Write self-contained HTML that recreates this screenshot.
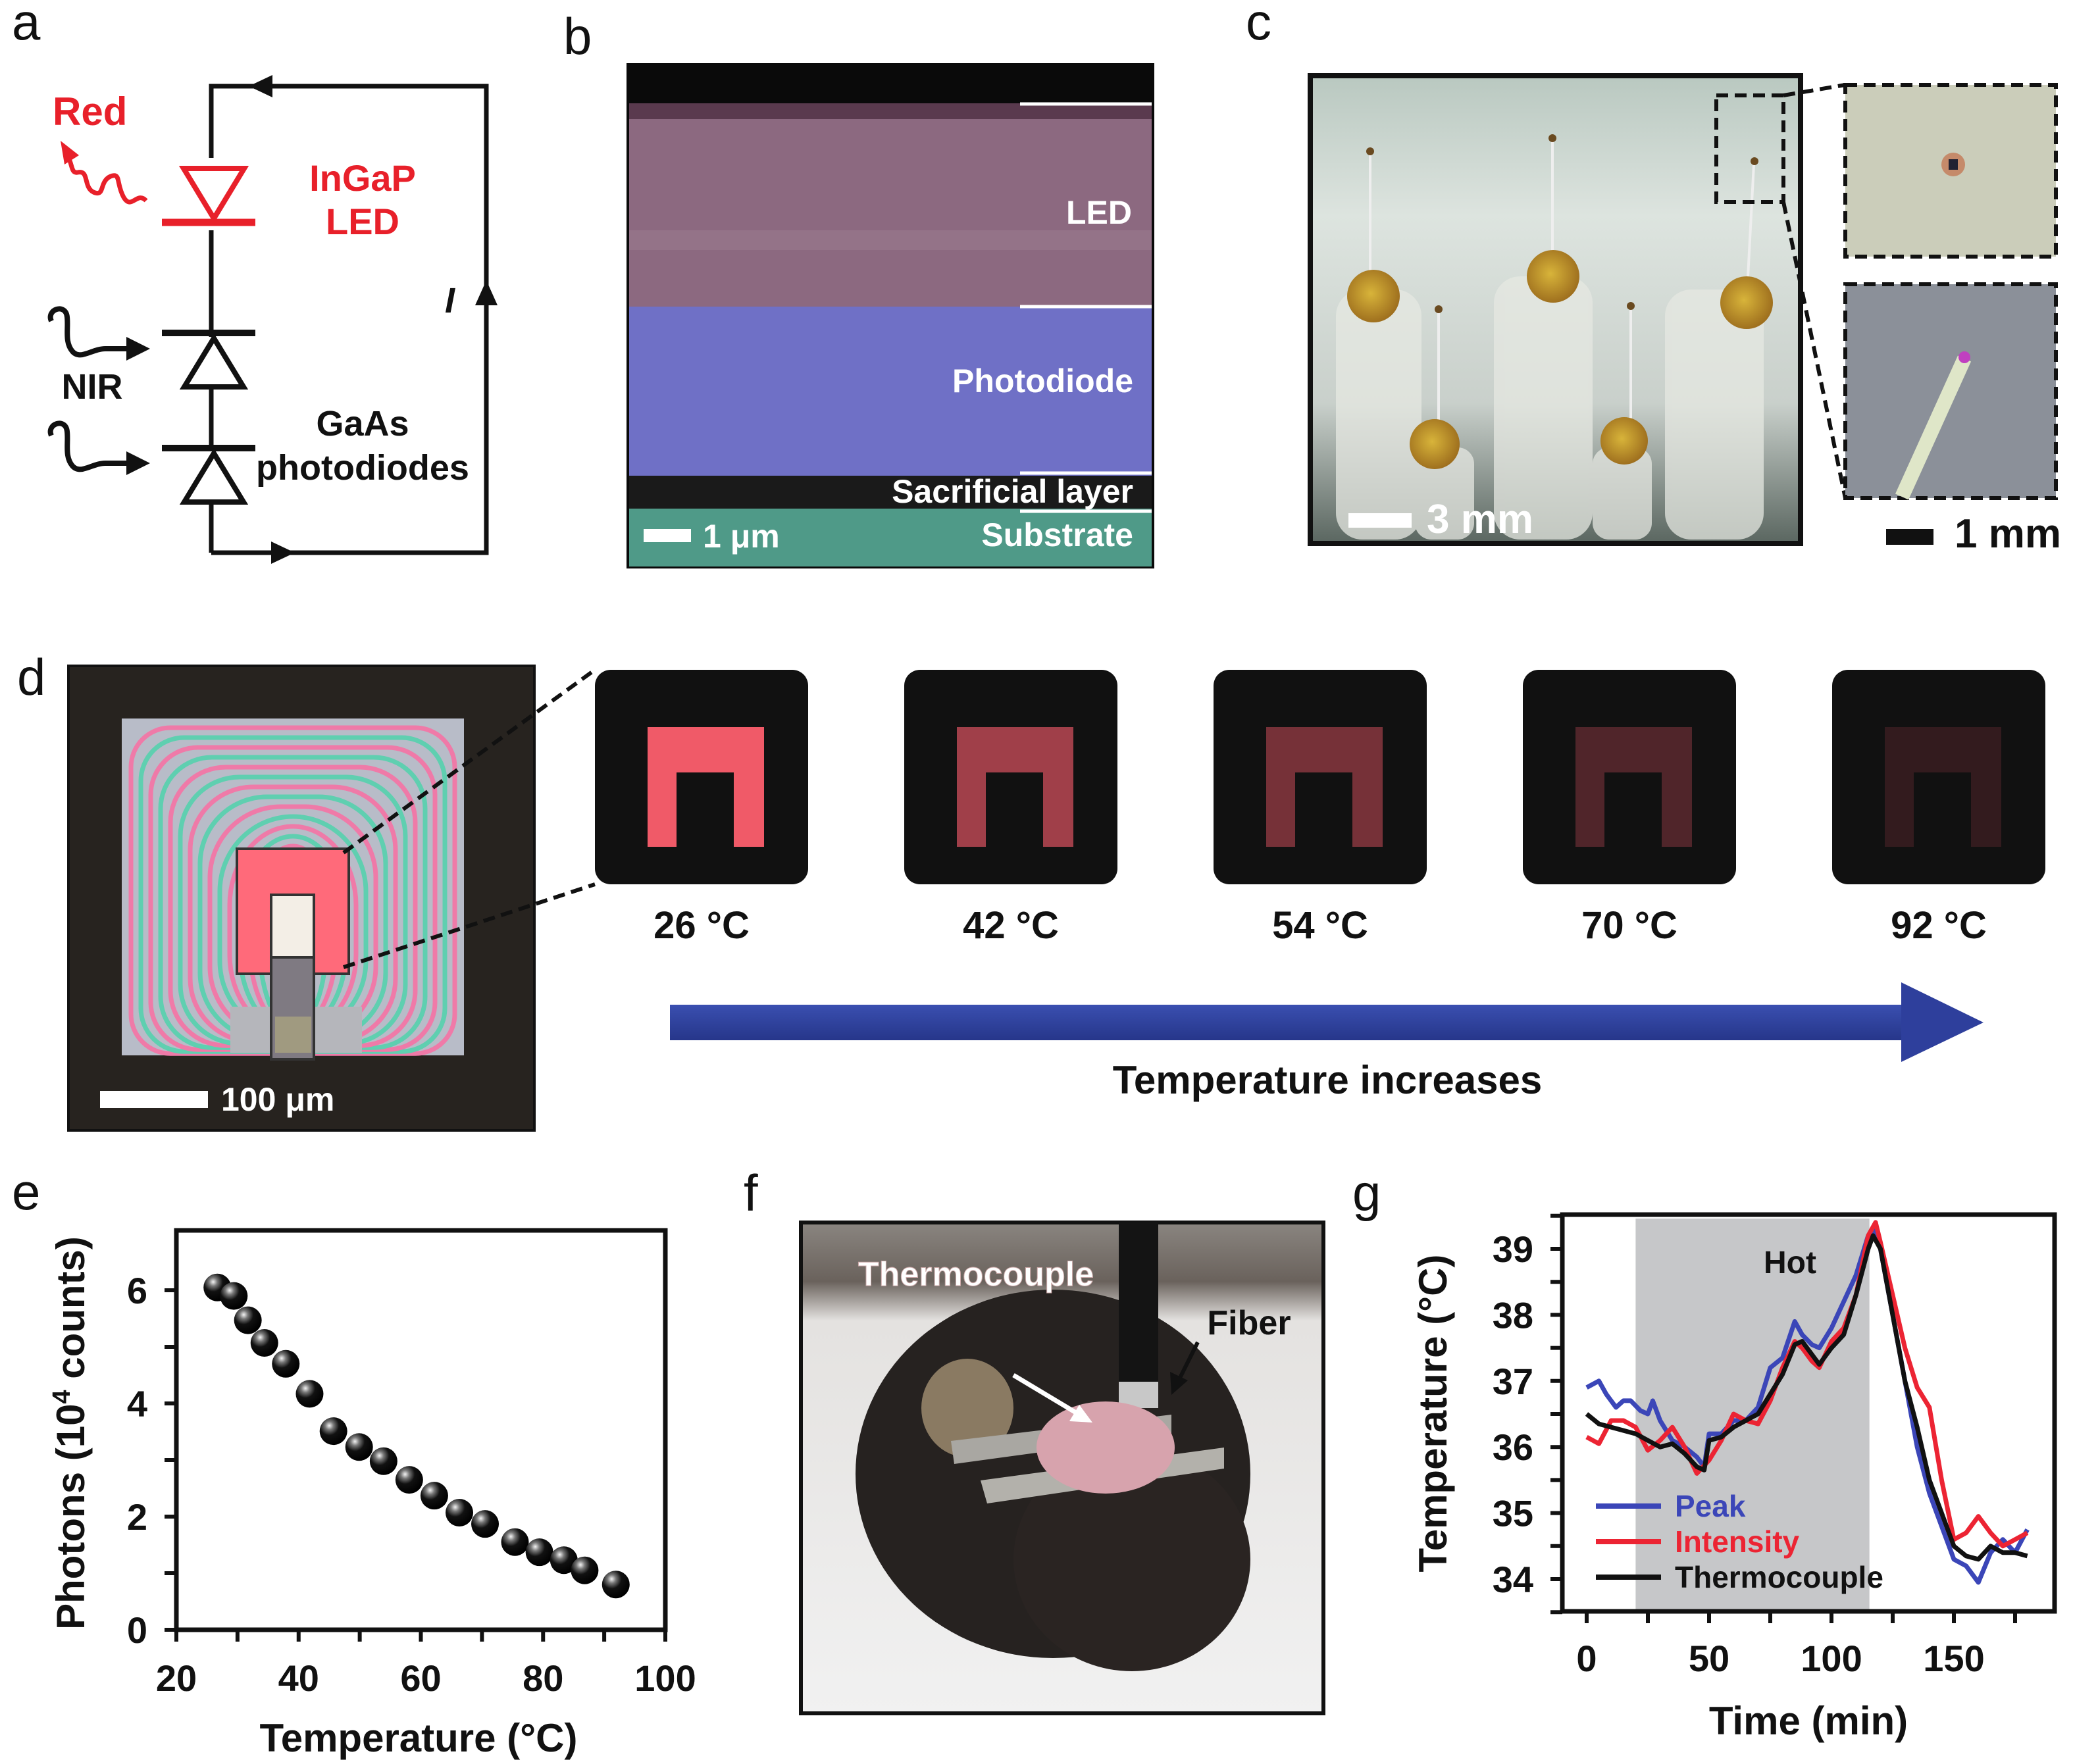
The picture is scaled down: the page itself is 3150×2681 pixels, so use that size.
<!DOCTYPE html>
<html><head><meta charset="utf-8"><title>Figure</title>
<style>
html,body{margin:0;padding:0;background:#fff;}
svg{display:block;}
text{font-family:"Liberation Sans",sans-serif;}
.b{font-weight:bold;}
.lab{font-size:78px;fill:#111;font-weight:normal;}
</style></head>
<body>
<svg id="fig" width="3150" height="2681" viewBox="0 0 3150 2681" xmlns="http://www.w3.org/2000/svg">
<defs>
<linearGradient id="arrowGrad" x1="0" y1="0" x2="0" y2="1"><stop offset="0" stop-color="#3a4fb0"/><stop offset="1" stop-color="#26368a"/></linearGradient>
<linearGradient id="photoC" x1="0" y1="0" x2="0" y2="1"><stop offset="0" stop-color="#b9c8c0"/><stop offset="0.3" stop-color="#dde4df"/><stop offset="0.7" stop-color="#c9d0cb"/><stop offset="1" stop-color="#5a6660"/></linearGradient>
<linearGradient id="photoF" x1="0" y1="0" x2="0" y2="1"><stop offset="0" stop-color="#8a8580"/><stop offset="0.12" stop-color="#6a625c"/><stop offset="0.2" stop-color="#e4e2e0"/><stop offset="1" stop-color="#f1f1f1"/></linearGradient>
<radialGradient id="ball" cx="0.35" cy="0.3" r="0.7"><stop offset="0" stop-color="#f4f4f4"/><stop offset="0.22" stop-color="#777"/><stop offset="0.5" stop-color="#111"/><stop offset="1" stop-color="#000"/></radialGradient>
<radialGradient id="bead" cx="0.45" cy="0.45" r="0.6"><stop offset="0" stop-color="#d8b43a"/><stop offset="1" stop-color="#9a6a1c"/></radialGradient>
</defs>

<!-- ===== Panel a ===== -->
<g>
<text class="lab" x="18" y="60">a</text>
<polyline points="321,840 321,131 739,131 739,840 321,840" fill="none" stroke="#111" stroke-width="7"/>
<polygon points="378,131 414,114 414,148" fill="#111"/>
<polygon points="448,840 412,823 412,857" fill="#111"/>
<polygon points="739,426 722,464 756,464" fill="#111"/>
<text x="676" y="475" class="b" font-style="italic" font-size="54" fill="#111">I</text>
<g>
<rect x="300" y="240" width="50" height="110" fill="#fff"/>
<polygon points="279,256 371,256 325,332" fill="none" stroke="#e8202a" stroke-width="8"/>
<line x1="246" y1="338" x2="388" y2="338" stroke="#e8202a" stroke-width="11"/>
</g>
<text x="80" y="190" class="b" font-size="60" fill="#e8202a">Red</text>
<path d="M222,305 C208,290 200,320 188,300 C176,278 184,262 168,268 C150,276 160,300 142,292 C126,284 136,258 118,262 C108,264 110,250 104,240" fill="none" stroke="#e8202a" stroke-width="7"/>
<polygon points="92,214 120,236 98,250" fill="#e8202a"/>
<text x="551" y="290" text-anchor="middle" class="b" font-size="56" fill="#e8202a">InGaP</text>
<text x="551" y="356" text-anchor="middle" class="b" font-size="56" fill="#e8202a">LED</text>
<g>
<rect x="290" y="512" width="70" height="80" fill="#fff"/>
<line x1="246" y1="506" x2="388" y2="506" stroke="#111" stroke-width="10"/>
<polygon points="325,514 280,588 370,588" fill="#fff" stroke="#111" stroke-width="8"/>
</g>
<g>
<rect x="290" y="686" width="70" height="80" fill="#fff"/>
<line x1="246" y1="681" x2="388" y2="681" stroke="#111" stroke-width="10"/>
<polygon points="325,689 280,763 370,763" fill="#fff" stroke="#111" stroke-width="8"/>
</g>
<path d="M78,488 C70,470 100,460 102,482 C104,500 98,520 110,534 C122,548 140,530 160,530 L196,530" fill="none" stroke="#111" stroke-width="8"/>
<polygon points="228,530 192,512 192,548" fill="#111"/>
<path d="M78,662 C70,644 100,634 102,656 C104,674 98,694 110,708 C122,722 140,704 160,704 L196,704" fill="none" stroke="#111" stroke-width="8"/>
<polygon points="228,704 192,686 192,722" fill="#111"/>
<text x="140" y="606" text-anchor="middle" class="b" font-size="54" fill="#111">NIR</text>
<text x="551" y="662" text-anchor="middle" class="b" font-size="54" fill="#111">GaAs</text>
<text x="551" y="729" text-anchor="middle" class="b" font-size="54" fill="#111">photodiodes</text>
</g>

<!-- ===== Panel b ===== -->
<g>
<text class="lab" x="856" y="82">b</text>
<rect x="952" y="96" width="802" height="768" fill="#0a0a0a"/>
<rect x="956" y="157" width="794" height="24" fill="#5a3a4e"/>
<rect x="956" y="181" width="794" height="285" fill="#8c6980"/>
<rect x="956" y="350" width="794" height="30" fill="#9a7a8e" opacity="0.6"/>
<rect x="956" y="466" width="794" height="257" fill="#6f70c6"/>
<rect x="956" y="723" width="794" height="50" fill="#1a1a1a"/>
<rect x="956" y="773" width="794" height="88" fill="#4f9a88"/>
<g stroke="#fff" stroke-width="5"><line x1="1550" y1="158" x2="1750" y2="158"/><line x1="1550" y1="466" x2="1750" y2="466"/><line x1="1550" y1="719" x2="1750" y2="719"/><line x1="1550" y1="777" x2="1750" y2="777"/></g>
<text x="1720" y="340" text-anchor="end" class="b" font-size="50" fill="#fff">LED</text>
<text x="1722" y="596" text-anchor="end" class="b" font-size="50" fill="#fff">Photodiode</text>
<text x="1722" y="764" text-anchor="end" class="b" font-size="50" fill="#fff">Sacrificial layer</text>
<text x="1722" y="830" text-anchor="end" class="b" font-size="50" fill="#fff">Substrate</text>
<rect x="978" y="804" width="72" height="20" fill="#fff"/>
<text x="1068" y="832" class="b" font-size="50" fill="#fff">1 μm</text>
</g>

<!-- ===== Panel c ===== -->
<g>
<text class="lab" x="1893" y="60">c</text>
<rect x="1991" y="115" width="745" height="711" fill="url(#photoC)" stroke="#111" stroke-width="8"/>
<g fill="#e6e8e2" opacity="0.75">
<rect x="2030" y="440" width="130" height="380" rx="40"/><rect x="2270" y="420" width="150" height="400" rx="40"/><rect x="2530" y="440" width="150" height="380" rx="40"/>
<rect x="2150" y="680" width="90" height="140" rx="25"/><rect x="2420" y="680" width="90" height="140" rx="25"/>
</g>
<g stroke="#eee" stroke-width="4"><line x1="2082" y1="235" x2="2082" y2="420"/><line x1="2359" y1="212" x2="2359" y2="400"/><line x1="2665" y1="250" x2="2655" y2="440"/><line x1="2186" y1="475" x2="2186" y2="660"/><line x1="2478" y1="470" x2="2478" y2="660"/></g>
<g fill="url(#bead)"><circle cx="2087" cy="450" r="40"/><circle cx="2360" cy="420" r="40"/><circle cx="2654" cy="460" r="40"/><circle cx="2180" cy="675" r="38"/><circle cx="2468" cy="670" r="36"/></g>
<g fill="#6a4a20"><circle cx="2082" cy="230" r="6"/><circle cx="2359" cy="210" r="6"/><circle cx="2666" cy="245" r="6"/><circle cx="2186" cy="470" r="6"/><circle cx="2478" cy="465" r="6"/></g>
<rect x="2608" y="145" width="102" height="162" fill="none" stroke="#111" stroke-width="6" stroke-dasharray="18,10"/>
<line x1="2710" y1="145" x2="2804" y2="129" stroke="#111" stroke-width="6" stroke-dasharray="18,10"/>
<line x1="2710" y1="307" x2="2804" y2="757" stroke="#111" stroke-width="6" stroke-dasharray="18,10"/>
<rect x="2804" y="129" width="320" height="261" fill="#cbcdba" stroke="#111" stroke-width="6" stroke-dasharray="18,10"/>
<circle cx="2968" cy="250" r="18" fill="#c58a6a"/><rect x="2961" y="242" width="14" height="16" fill="#223"/>
<rect x="2804" y="432" width="320" height="325" fill="#8b9099" stroke="#111" stroke-width="6" stroke-dasharray="18,10"/>
<line x1="2890" y1="755" x2="2985" y2="545" stroke="#dfe6c8" stroke-width="22"/>
<circle cx="2985" cy="543" r="9" fill="#c040c0"/>
<rect x="2049" y="780" width="96" height="22" fill="#fff"/>
<text x="2168" y="810" class="b" font-size="62" fill="#fff">3 mm</text>
<rect x="2866" y="804" width="72" height="24" fill="#111"/>
<text x="2970" y="832" class="b" font-size="62" fill="#111">1 mm</text>
</g>

<!-- ===== Panel d ===== -->
<g>
<text class="lab" x="26" y="1056">d</text>
<rect x="104" y="1012" width="708" height="706" fill="#27231f" stroke="#111" stroke-width="4"/>
<rect x="185" y="1092" width="520" height="512" fill="#b8bcc8"/>
<g id="rings" fill="none" stroke-width="7"></g>
<rect x="350" y="1530" width="200" height="70" fill="#b5b6bb"/>
<rect x="360" y="1290" width="170" height="190" fill="#ff6a7a" stroke="#333" stroke-width="4"/>
<rect x="412" y="1360" width="65" height="95" fill="#f3eee6" stroke="#333" stroke-width="4"/>
<rect x="412" y="1455" width="65" height="155" fill="#7f7a82" stroke="#333" stroke-width="4"/>
<rect x="418" y="1545" width="55" height="55" fill="#a09a80"/>
<line x1="522" y1="1296" x2="904" y2="1018" stroke="#111" stroke-width="6" stroke-dasharray="18,10"/>
<line x1="522" y1="1470" x2="904" y2="1344" stroke="#111" stroke-width="6" stroke-dasharray="18,10"/>
<rect x="152" y="1658" width="164" height="26" fill="#fff"/>
<text x="336" y="1688" class="b" font-size="50" fill="#fff">100 μm</text>
<g id="ledFrames"></g>
<rect x="1018" y="1527" width="1876" height="54" fill="url(#arrowGrad)"/>
<polygon points="2889,1493 3014,1554 2889,1614" fill="#2e3f9c"/>
<text x="2017" y="1662" text-anchor="middle" class="b" font-size="60" fill="#111">Temperature increases</text>
</g>

<!-- ===== Panel e ===== -->
<g id="panelE">
<text class="lab" x="18" y="1838">e</text>
</g>

<!-- ===== Panel f ===== -->
<g>
<text class="lab" x="1130" y="1840">f</text>
<rect x="1217" y="1858" width="794" height="746" fill="url(#photoF)" stroke="#111" stroke-width="6"/>
<ellipse cx="1600" cy="2240" rx="300" ry="280" fill="#262220"/>
<ellipse cx="1720" cy="2370" rx="180" ry="170" fill="#2a2422"/>
<ellipse cx="1470" cy="2140" rx="70" ry="75" fill="#8a7a62"/>
<rect x="1700" y="1858" width="60" height="250" fill="#141414"/>
<rect x="1700" y="2100" width="60" height="40" fill="#c8c8c8"/>
<polygon points="1445,2190 1780,2150 1780,2180 1450,2225" fill="#a9a7a2"/>
<polygon points="1490,2250 1860,2200 1860,2232 1500,2285" fill="#b3b1ab"/>
<ellipse cx="1680" cy="2200" rx="105" ry="70" fill="#d7a3ad"/>
<line x1="1540" y1="2090" x2="1640" y2="2150" stroke="#fff" stroke-width="7"/>
<polygon points="1660,2162 1625,2160 1640,2135" fill="#fff"/>
<line x1="1820" y1="2040" x2="1790" y2="2100" stroke="#111" stroke-width="6"/>
<polygon points="1780,2120 1778,2085 1805,2098" fill="#111"/>
<text x="1483" y="1954" text-anchor="middle" class="b" font-size="52" fill="#fff" stroke="#caa" stroke-width="1">Thermocouple</text>
<text x="1898" y="2028" text-anchor="middle" class="b" font-size="52" fill="#111">Fiber</text>
</g>

<!-- ===== Panel g ===== -->
<g id="panelG">
<text class="lab" x="2055" y="1840">g</text>
</g>
</svg>

<script>
// ---------- Panel e data ----------
const eTemps = [26.7, 29.4, 31.7, 34.4, 37.9, 41.8, 45.7, 49.9, 53.9, 58.1, 62.2, 66.3, 70.5, 75.4, 79.4, 83.4, 86.8, 91.9];
const ePhotons = [6.05, 5.9, 5.47, 5.07, 4.7, 4.17, 3.51, 3.23, 2.98, 2.65, 2.37, 2.07, 1.87, 1.55, 1.37, 1.23, 1.05, 0.8];
const eXTicks = [20, 40, 60, 80, 100];
const eYTicks = [0, 2, 4, 6];

// ---------- Panel g data ----------
const gTimeThermo = [0,5,10,15,20,25,30,35,40,45,48,50,55,60,65,70,75,80,85,88,92,95,100,105,110,115,117,120,125,130,135,140,145,150,155,160,165,170,175,180];
const gThermo = [36.5,36.35,36.3,36.25,36.2,36.1,36.0,36.05,35.9,35.7,35.65,36.1,36.15,36.3,36.4,36.5,36.8,37.1,37.55,37.6,37.4,37.25,37.5,37.7,38.3,39.0,39.2,39.0,38.0,37.0,36.3,35.5,35.0,34.5,34.35,34.3,34.5,34.4,34.4,34.35];
const gTimePeak = [0,5,8,12,15,18,22,25,27,30,35,40,45,48,50,55,60,65,70,75,80,85,88,92,95,100,105,110,115,117,120,125,130,135,140,145,150,155,160,165,170,175,180];
const gPeak = [36.9,37.0,36.8,36.6,36.7,36.7,36.55,36.5,36.7,36.4,36.1,36.0,35.85,35.7,36.2,36.2,36.4,36.4,36.6,37.2,37.35,37.9,37.7,37.55,37.5,37.8,38.2,38.6,39.2,39.3,39.0,38.0,37.0,36.0,35.3,34.8,34.3,34.2,33.95,34.4,34.6,34.4,34.75];
const gTimeInt = [0,5,10,15,20,25,30,35,40,45,50,55,60,65,70,75,80,85,88,92,95,100,105,110,115,118,120,125,130,135,140,145,150,155,160,165,170,175,180];
const gIntensity = [36.15,36.05,36.4,36.4,36.3,35.95,36.1,36.3,36.0,35.6,35.8,36.1,36.5,36.4,36.35,36.7,37.2,37.6,37.5,37.3,37.2,37.6,37.8,38.3,39.2,39.4,39.1,38.3,37.5,36.9,36.6,35.5,34.6,34.7,34.95,34.7,34.5,34.6,34.7];
const gXTicks = [0, 50, 100, 150];
const gYTicks = [34, 35, 36, 37, 38, 39];
const gHotRange = [20, 115.5];
const gLegendNames = ["Peak", "Intensity", "Thermocouple"];

// ---------- Panel d frames ----------
const dTempLabels = ["26 °C", "42 °C", "54 °C", "70 °C", "92 °C"];
const dBrightness = [1.0, 0.62, 0.42, 0.24, 0.1];

const NS = "http://www.w3.org/2000/svg";
function mk(parent, tag, attrs, txt) {
  const el = document.createElementNS(NS, tag);
  for (const k in attrs) el.setAttribute(k, attrs[k]);
  if (txt !== undefined) el.textContent = txt;
  parent.appendChild(el);
  return el;
}

// rings in panel d micrograph
(function () {
  const g = document.getElementById('rings');
  const cols = ['#ef7aa8', '#5fcfb0'];
  for (let i = 0; i < 14; i++) {
    const inset = 14 + i * 15;
    const r = mk(g, 'rect', {x: 185 + inset, y: 1092 + inset, width: Math.max(10, 520 - 2 * inset), height: Math.max(10, 512 - inset * 1.2), rx: 60 + i * 6, stroke: cols[i % 2]});
    
    
  }
})();

// LED frames
(function () {
  const g = document.getElementById('ledFrames');
  const xs0 = 904, step = 470;
  dTempLabels.forEach((lab, i) => {
    const x = xs0 + i * step;
    const fr = mk(g, 'rect', {x: x, y: 1018, width: 324, height: 326, rx: 24, fill: '#111'});
    
    
    const b = dBrightness[i];
    const col = `rgb(${Math.round(30 + 210 * b)},${Math.round(20 + 70 * b)},${Math.round(22 + 82 * b)})`;
    mk(g, 'path', {d: `M${x + 80},${x ? 1287 : 0} L${x + 80},1105 L${x + 257},1105 L${x + 257},1287 L${x + 211},1287 L${x + 211},1174 L${x + 124},1174 L${x + 124},1287 Z`, fill: col});
    const t = mk(g, 'text', {x: x + 162, y: 1426, 'text-anchor': 'middle', 'class': 'b', 'font-size': 58, fill: '#111'}, lab);
    
    
  });
})();

// Panel e chart
(function () {
  const g = document.getElementById('panelE');
  const L = 268, R = 1011, T = 1870, B = 2477;
  const xS = v => L + (v - 20) / 80 * (R - L);
  const yS = v => B - v * 86;
  const ax = mk(g, 'path', {d: `M${L},${T} L${R},${T} L${R},${B} L${L},${B} Z`, fill: 'none', stroke: '#111', 'stroke-width': 7});
  
  
  for (let v = 20; v <= 100; v += 10) {
    mk(g, 'line', {x1: xS(v), y1: B, x2: xS(v), y2: B + 18, stroke: '#111', 'stroke-width': 6});
  }
  for (let v = 0; v <= 6; v += 1) {
    mk(g, 'line', {x1: L - 18, y1: yS(v), x2: L, y2: yS(v), stroke: '#111', 'stroke-width': 6});
  }
  eXTicks.forEach(v => {
    const t = mk(g, 'text', {x: xS(v), y: 2570, 'text-anchor': 'middle', 'class': 'b', 'font-size': 56, fill: '#111'}, String(v));
    
    
  });
  eYTicks.forEach(v => {
    const t = mk(g, 'text', {x: 224, y: yS(v) + 20, 'text-anchor': 'end', 'class': 'b', 'font-size': 56, fill: '#111'}, String(v));
    
    
  });
  const xt = mk(g, 'text', {x: 636, y: 2662, 'text-anchor': 'middle', 'class': 'b', 'font-size': 60, fill: '#111'}, 'Temperature (°C)');
  
  
  const yt = mk(g, 'text', {x: 0, y: 0, transform: 'translate(128,2178) rotate(-90)', 'text-anchor': 'middle', 'class': 'b', 'font-size': 60, fill: '#111'});
  
  
  mk(yt, 'tspan', {}, 'Photons (10');
  mk(yt, 'tspan', {dy: -22, 'font-size': 38}, '4');
  mk(yt, 'tspan', {dy: 22}, ' counts)');
  eTemps.forEach((v, i) => {
    const c = mk(g, 'circle', {cx: xS(v), cy: yS(ePhotons[i]), r: 21, fill: 'url(#ball)'});
    
    
  });
})();

// Panel g chart
(function () {
  const g = document.getElementById('panelG');
  const L = 2374, R = 3122, T = 1846, B = 2449;
  const xS = t => 2411 + t * (2969 - 2411) / 150;
  const yS = v => 2400 - (v - 34) * 100.4;
  const band = mk(g, 'rect', {x: xS(gHotRange[0]), y: T + 6, width: xS(gHotRange[1]) - xS(gHotRange[0]), height: B - T - 8, fill: '#c6c7c9'});
  
  
  const hot = mk(g, 'text', {x: 2720, y: 1935, 'text-anchor': 'middle', 'class': 'b', 'font-size': 48, fill: '#111'}, 'Hot');
  
  
  const ax = mk(g, 'path', {d: `M${L},${T} L${R},${T} L${R},${B} L${L},${B} Z`, fill: 'none', stroke: '#111', 'stroke-width': 7});
  
  
  for (let t = 0; t <= 175; t += 25) mk(g, 'line', {x1: xS(t), y1: B, x2: xS(t), y2: B + 18, stroke: '#111', 'stroke-width': 6});
  for (let v = 33.5; v <= 39.6; v += 0.5) mk(g, 'line', {x1: L - 18, y1: yS(v), x2: L, y2: yS(v), stroke: '#111', 'stroke-width': 6});
  gXTicks.forEach(v => {
    const t = mk(g, 'text', {x: xS(v), y: 2540, 'text-anchor': 'middle', 'class': 'b', 'font-size': 56, fill: '#111'}, String(v));
    
    
  });
  gYTicks.forEach(v => {
    const t = mk(g, 'text', {x: 2330, y: yS(v) + 20, 'text-anchor': 'end', 'class': 'b', 'font-size': 56, fill: '#111'}, String(v));
    
    
  });
  const xt = mk(g, 'text', {x: 2748, y: 2636, 'text-anchor': 'middle', 'class': 'b', 'font-size': 60, fill: '#111'}, 'Time (min)');
  
  
  const yt = mk(g, 'text', {x: 0, y: 0, transform: 'translate(2198,2148) rotate(-90)', 'text-anchor': 'middle', 'class': 'b', 'font-size': 60, fill: '#111'}, 'Temperature (°C)');
  
  
  function line(ts, vs, col, name) {
    const d = ts.map((t, i) => (i ? 'L' : 'M') + xS(t).toFixed(1) + ',' + yS(vs[i]).toFixed(1)).join(' ');
    const p = mk(g, 'path', {d: d, fill: 'none', stroke: col, 'stroke-width': 7, 'stroke-linejoin': 'round'});
    
    
  }
  line(gTimePeak, gPeak, '#3b46b8', 'peak-line');
  line(gTimeInt, gIntensity, '#ec2433', 'intensity-line');
  line(gTimeThermo, gThermo, '#111', 'thermocouple-line');
  const cols = ['#3b46b8', '#ec2433', '#111'];
  const ly = [2289, 2343, 2397];
  gLegendNames.forEach((n, i) => {
    const l = mk(g, 'line', {x1: 2425, y1: ly[i], x2: 2524, y2: ly[i], stroke: cols[i], 'stroke-width': 8});
    
    
    const t = mk(g, 'text', {x: 2545, y: ly[i] + 16, 'class': 'b', 'font-size': 46, fill: cols[i]}, n);
    
    
  });
})();
</script>
</body></html>
